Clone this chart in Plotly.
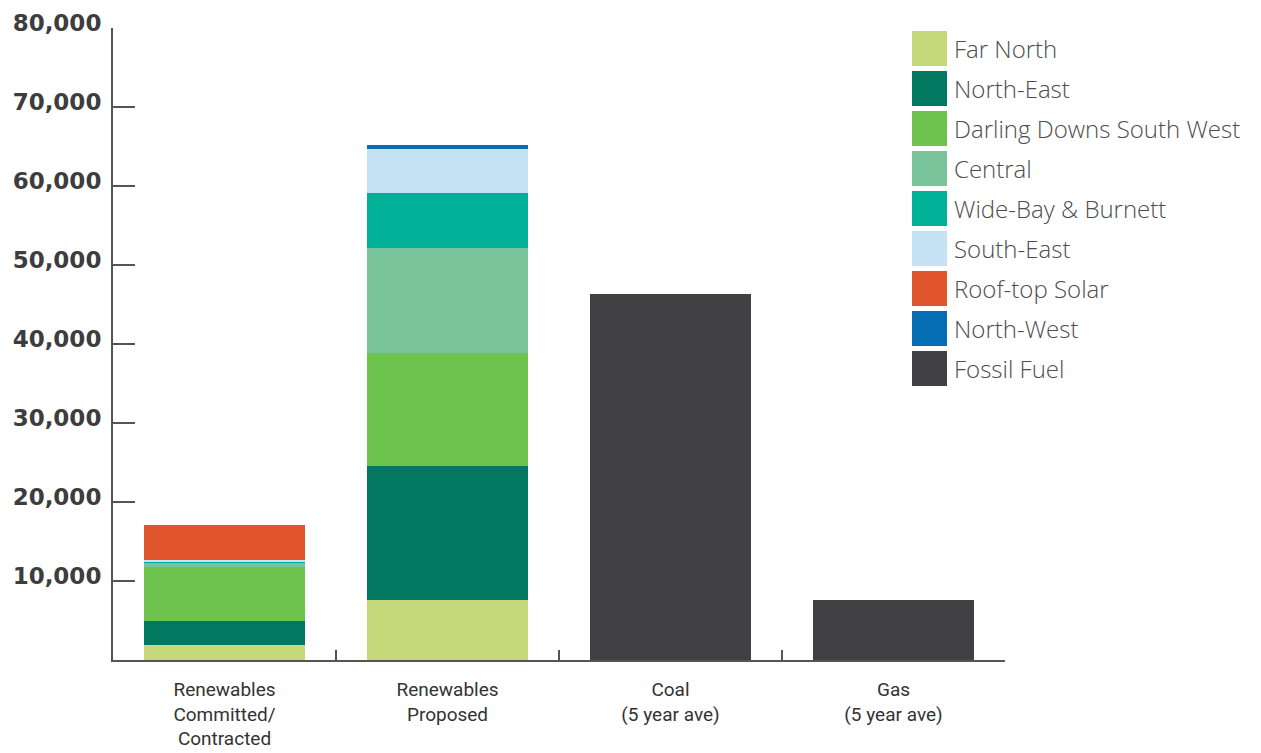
import plotly.graph_objects as go

# ---- data ----
categories = ["Renewables<br>Committed/<br>Contracted", "Renewables<br>Proposed",
              "Coal<br>(5 year ave)", "Gas<br>(5 year ave)"]
series_names = ["Far North", "North-East", "Darling Downs South West", "Central",
                "Wide-Bay & Burnett", "South-East", "Roof-top Solar", "North-West", "Fossil Fuel"]
far_north = [1900, 7600, None, None]
north_east = [3050, 16950, None, None]
darling_downs = [6830, 14300, None, None]
central = [500, 13300, None, None]
wide_bay = [250, 6950, None, None]
south_east = [150, 5570, None, None]
rooftop = [4400, None, None, None]
north_west = [None, 500, None, None]
fossil = [None, None, 46300, 7600]
y_ticks = [10000, 20000, 30000, 40000, 50000, 60000, 70000, 80000]
y_tick_labels = ["10,000", "20,000", "30,000", "40,000", "50,000", "60,000", "70,000", "80,000"]

series_values = [far_north, north_east, darling_downs, central, wide_bay,
                 south_east, rooftop, north_west, fossil]
colors = ["#c6d97a", "#01785f", "#6ec24e", "#79c39a", "#00b197",
          "#c5e2f5", "#e0552b", "#066eb4", "#414042"]

# page body has a default 8px margin; compensate so the plot lands where wanted
OFF = 8
W, H = 1261 - OFF, 753 - OFF
L, R, T, B = 113, 1005, 28, 660   # target plot-area edges in screenshot pixels

fig = go.Figure()
for name, vals, col in zip(series_names, series_values, colors):
    fig.add_trace(go.Bar(x=categories, y=vals, name=name, marker_color=col,
                         marker_line_width=0, showlegend=False))

fig.update_layout(
    width=W, height=H, barmode="stack", bargap=0.28,
    margin=dict(l=L - OFF, r=W - (R - OFF), t=T - OFF, b=H - (B - OFF), pad=0,
                autoexpand=False),
    plot_bgcolor="white", paper_bgcolor="white",
    font=dict(family="Open Sans", color="#3d3d3d"),
)
fig.update_xaxes(
    automargin=False,
    showline=True, linecolor="#555555", linewidth=2,
    ticks="inside", tickson="boundaries", ticklen=10, tickcolor="#555555", tickwidth=1.5,
    tickfont=dict(family="Roboto", size=19, color="#333333"),
    ticklabelstandoff=11, showgrid=False,
)
fig.update_yaxes(
    automargin=False,
    range=[0, 80000], showline=True, linecolor="#555555", linewidth=2,
    tickvals=y_ticks, ticktext=y_tick_labels,
    ticks="inside", ticklen=22, tickcolor="#555555", tickwidth=1.5,
    tickfont=dict(family="DejaVu Sans", size=23, color="#3d3d3d", weight="bold"),
    ticklabelstandoff=5, ticklabelshift=-5, showgrid=False, zeroline=False,
)

# ---- manual legend ----
def px_x(x):
    return (x - L) / (R - L)

def px_y(y):
    return (B - y) / (B - T)

sq_left, sq_size, row_top, row_step = 912, 35, 31, 40
for i, (name, col) in enumerate(zip(series_names, colors)):
    top = row_top + i * row_step
    fig.add_shape(type="rect", xref="paper", yref="paper",
                  x0=px_x(sq_left), x1=px_x(sq_left + sq_size),
                  y0=px_y(top + sq_size), y1=px_y(top),
                  fillcolor=col, line_width=0)
    fig.add_annotation(xref="paper", yref="paper", x=px_x(sq_left + 40),
                       y=px_y(top + sq_size / 2), text=name, showarrow=False,
                       xanchor="left", yanchor="middle",
                       font=dict(family="Open Sans", size=24, color="#4d4d4d", weight=300))

fig.write_html("out.html")
